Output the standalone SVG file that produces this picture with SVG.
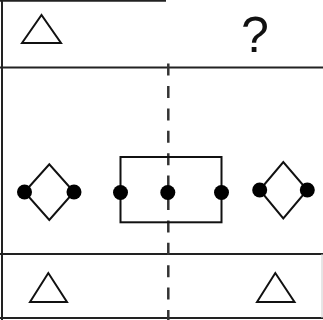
<svg xmlns="http://www.w3.org/2000/svg" width="323" height="320" viewBox="0 0 323 320">
  <style>
    .frame { stroke: #222; stroke-width: 2; fill: none; }
    .shape { stroke: #111; stroke-width: 2; fill: none; stroke-linejoin: miter; }
    .dot { fill: #000; }
    .dash { stroke: #333; stroke-width: 2.5; stroke-dasharray: 12 10.4; fill: none; }
    .q { font-family: "Liberation Sans", Arial, sans-serif; font-size: 50px; fill: #111; }
  </style>
  <rect width="323" height="320" fill="#fff"/>
  <g id="frame">
    <line class="frame" x1="0" y1="0.8" x2="166" y2="0.8"/>
    <line class="frame" x1="2" y1="0" x2="2" y2="320"/>
    <line class="frame" x1="0" y1="67.5" x2="323" y2="67.5"/>
    <line class="frame" x1="0" y1="254" x2="323" y2="254"/>
    <line class="frame" x1="0" y1="318" x2="323" y2="318" stroke="#444" stroke-width="2.5"/>
    <line x1="322" y1="254" x2="322" y2="318" stroke="#ccc" stroke-width="1"/>
  </g>
  <g id="connectors">
    <line class="dash" x1="168.3" y1="63.6" x2="168.3" y2="320"/>
  </g>
  <g id="top-triangle">
    <polygon class="shape" points="22,43 41.5,15 61,43"/>
  </g>
  <g id="question">
    <text class="q" x="255" y="52" text-anchor="middle">?</text>
  </g>
  <g id="left-diamond">
    <polygon class="shape" points="24.5,192 49.3,164.3 74,192 49.3,220"/>
    <circle class="dot" cx="24.5" cy="192" r="7.5"/>
    <circle class="dot" cx="74" cy="192" r="7.5"/>
  </g>
  <g id="center-rect">
    <rect class="shape" x="120.5" y="157" width="101" height="65.3"/>
    <circle class="dot" cx="120.5" cy="192.5" r="7.5"/>
    <circle class="dot" cx="167.8" cy="192.5" r="7.5"/>
    <circle class="dot" cx="221.5" cy="192.5" r="7.5"/>
  </g>
  <g id="right-diamond">
    <polygon class="shape" points="259.7,190 283.3,162 307.3,190 283.3,218.5"/>
    <circle class="dot" cx="259.7" cy="190" r="7.5"/>
    <circle class="dot" cx="307.3" cy="190" r="7.5"/>
  </g>
  <g id="bottom-left-triangle">
    <polygon class="shape" points="30,302 48.3,273 67,302"/>
  </g>
  <g id="bottom-right-triangle">
    <polygon class="shape" points="257,302 275.3,273 294.5,302"/>
  </g>
</svg>
